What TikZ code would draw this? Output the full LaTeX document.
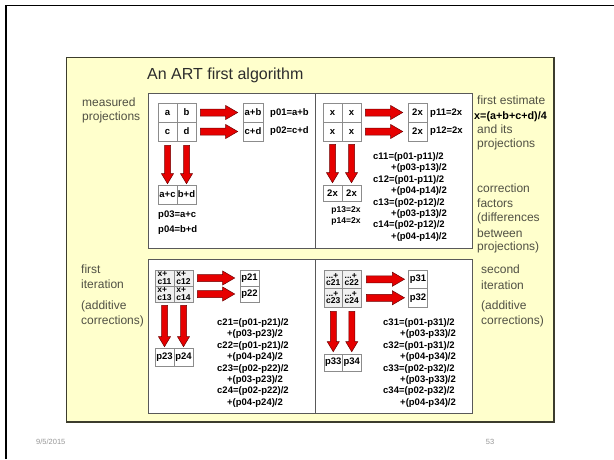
\documentclass[tikz,border=0pt]{standalone}
\usepackage{fontspec}
\setmainfont{Liberation Sans}
\usetikzlibrary{calc}

\definecolor{slideyellow}{RGB}{255,255,204}
\definecolor{boxedge}{RGB}{60,60,45}
\definecolor{labelc}{RGB}{80,80,68}
\definecolor{titlec}{RGB}{45,45,45}
\definecolor{arrowred}{RGB}{230,0,0}
\definecolor{arrowedge}{RGB}{110,0,0}
\definecolor{cellline}{RGB}{140,140,140}
\definecolor{footc}{RGB}{150,150,150}

\tikzset{
  lab/.style={anchor=west, inner sep=0pt, text=labelc, font=\fontsize{12}{14}\selectfont},
  cell/.style={draw=cellline, line width=0.6pt, fill=white, inner sep=0pt,
    minimum width=19pt, minimum height=19pt, font=\bfseries\fontsize{9.5}{10}\selectfont},
  twoline/.style={align=left, fill=black!6, font=\bfseries\fontsize{8.5}{7.2}\selectfont},
  eq/.style={anchor=west, inner sep=0pt, font=\bfseries\fontsize{9.5}{10}\selectfont},
  small eq/.style={inner sep=0pt, font=\bfseries\fontsize{8.5}{10}\selectfont},
  panel/.style={draw=black!65, line width=0.7pt, fill=white},
  arrowstyle/.style={fill=arrowred, draw=arrowedge, line width=0.5pt, line join=miter},
  hblock/.style={arrowstyle, to path={let \p1=(\tikztostart), \p2=(\tikztotarget) in
    (\x1,\y1+3.5pt) -- (\x2-12pt,\y1+3.5pt) -- (\x2-12pt,\y1+7pt) -- (\x2,\y1)
    -- (\x2-12pt,\y1-7pt) -- (\x2-12pt,\y1-3.5pt) -- (\x1,\y1-3.5pt) -- cycle}},
  vblock/.style={arrowstyle, to path={let \p1=(\tikztostart), \p2=(\tikztotarget) in
    (\x1+3pt,\y1) -- (\x1+3pt,\y2+10pt) -- (\x1+6pt,\y2+10pt) -- (\x1,\y2)
    -- (\x1-6pt,\y2+10pt) -- (\x1-3pt,\y2+10pt) -- (\x1-3pt,\y1) -- cycle}},
}

% one correction formula set over two lines
\newcommand\eqpair[6]{%
  \node[eq] (#1a) at (#2,#4) {#5};
  \node[eq] (#1b) at (#3,#4+11.4) {#6};}

\begin{document}
\begin{tikzpicture}[x=1pt,y=-1pt]
\useasboundingbox (0,0) rectangle (614,459);
\fill[white] (0,0) rectangle (614,459);

% slide frame
\draw[line width=1.6pt] (6,459) -- (6,5.3) -- (614,5.3);

% yellow content box and its four white panels
\draw[fill=slideyellow, draw=boxedge, line width=1.1pt] (66.5,57.5) rectangle (554,422);
\draw[panel] (148,93) rectangle (315,248);
\draw[panel] (315,93) rectangle (472,248);
\draw[panel] (148,259) rectangle (315,413);
\draw[panel] (315,259) rectangle (472,413);

\node[anchor=west, inner sep=0pt, text=titlec, font=\fontsize{16}{18}\selectfont]
  (title) at (147,75) {An ART first algorithm};

% side labels, left
\node[lab] (l1) at (82,102) {measured};
\node[lab] (l2) at (82,117) {projections};
\node[lab] (l3) at (81,269) {first};
\node[lab] (l4) at (81,284) {iteration};
\node[lab] (l5) at (81,306) {(additive};
\node[lab] (l6) at (81,321) {corrections)};

% side labels, right
\node[lab] (r1) at (477,100) {first estimate};
\node[anchor=west, inner sep=0pt, font=\bfseries\fontsize{10.8}{12}\selectfont] (r2) at (474,117) {x=(a+b+c+d)/4};
\node[lab] (r3) at (477,129) {and its};
\node[lab] (r4) at (477,144) {projections};
\node[lab] (r5) at (477,188) {correction};
\node[lab] (r6) at (477,203) {factors};
\node[lab] (r7) at (477,218) {(differences};
\node[lab] (r8) at (477,233) {between};
\node[lab] (r9) at (477,247) {projections)};
\node[lab] (s1) at (481,269) {second};
\node[lab] (s2) at (481,285) {iteration};
\node[lab] (s3) at (481,306) {(additive};
\node[lab] (s4) at (481,321) {corrections)};

% measured projections
\node[cell] (a) at (167.5,112.5) {a};
\node[cell] (b) at (186.5,112.5) {b};
\node[cell] (c) at (167.5,131.5) {c};
\node[cell] (d) at (186.5,131.5) {d};
\node[cell, minimum width=20pt] (ab) at (253,112.5) {a+b};
\node[cell, minimum width=20pt] (cd) at (253,131.5) {c+d};
\draw[hblock] ([xshift=4pt]b.east) to ([xshift=-5pt]ab.west);
\draw[hblock] ([xshift=4pt]d.east) to ([xshift=-5pt]cd.west);
\node[eq] (p01) at (270,113) {p01=a+b};
\node[eq] (p02) at (270,131) {p02=c+d};
\node[cell] (ac) at (167.5,194.5) {a+c};
\node[cell] (bd) at (186.5,194.5) {b+d};
\draw[vblock] ([yshift=-4pt]c.south) to ([yshift=1pt]ac.north);
\draw[vblock] ([yshift=-4pt]d.south) to ([yshift=1pt]bd.north);
\node[eq] (p03) at (158,215) {p03=a+c};
\node[eq] (p04) at (158,230) {p04=b+d};

% first estimate
\node[cell] (x1) at (332.5,112.5) {x};
\node[cell] (x2) at (351.5,112.5) {x};
\node[cell] (x3) at (332.5,131.5) {x};
\node[cell] (x4) at (351.5,131.5) {x};
\node[cell] (e1) at (417.5,112.5) {2x};
\node[cell] (e2) at (417.5,131.5) {2x};
\draw[hblock] ([xshift=4pt]x2.east) to ([xshift=-5pt]e1.west);
\draw[hblock] ([xshift=4pt]x4.east) to ([xshift=-5pt]e2.west);
\node[eq] (p11) at (430,113) {p11=2x};
\node[eq] (p12) at (430,131) {p12=2x};
\node[cell, minimum height=16pt] (e3) at (332.5,193) {2x};
\node[cell, minimum height=16pt] (e4) at (351.5,193) {2x};
\draw[vblock] ([yshift=-3pt]x3.south) to ([yshift=2pt]e3.north);
\draw[vblock] ([yshift=-3pt]x4.south) to ([yshift=2pt]e4.north);
\node[small eq] (p13) at (346,210) {p13=2x};
\node[small eq] (p14) at (346,221) {p14=2x};
\eqpair{c11}{373}{391}{157}{c11=(p01-p11)/2}{+(p03-p13)/2}
\eqpair{c12}{373}{391}{179.8}{c12=(p01-p11)/2}{+(p04-p14)/2}
\eqpair{c13}{373}{391}{202.6}{c13=(p02-p12)/2}{+(p03-p13)/2}
\eqpair{c14}{373}{391}{225.4}{c14=(p02-p12)/2}{+(p04-p14)/2}

% first iteration
\node[cell, minimum height=16pt, twoline] (f1) at (164.5,278) {x+\\c11};
\node[cell, minimum height=16pt, twoline] (f2) at (183.5,278) {x+\\c12};
\node[cell, minimum height=16pt, twoline] (f3) at (164.5,294) {x+\\c13};
\node[cell, minimum height=16pt, twoline] (f4) at (183.5,294) {x+\\c14};
\node[cell, minimum height=16pt] (p21) at (249.5,278) {p21};
\node[cell, minimum height=16pt] (p22) at (249.5,294) {p22};
\draw[hblock] ([xshift=4pt]f2.east) to ([xshift=-5pt]p21.west);
\draw[hblock] ([xshift=4pt]f4.east) to ([xshift=-5pt]p22.west);
\node[cell, minimum height=18pt] (p23) at (164.5,357) {p23};
\node[cell, minimum height=18pt] (p24) at (183.5,357) {p24};
\draw[vblock] ([yshift=-3pt]f3.south) to ([yshift=1pt]p23.north);
\draw[vblock] ([yshift=-3pt]f4.south) to ([yshift=1pt]p24.north);
\eqpair{c21}{217}{227}{323}{c21=(p01-p21)/2}{+(p03-p23)/2}
\eqpair{c22}{217}{227}{345.8}{c22=(p01-p21)/2}{+(p04-p24)/2}
\eqpair{c23}{217}{227}{368.6}{c23=(p02-p22)/2}{+(p03-p23)/2}
\eqpair{c24}{217}{227}{391.4}{c24=(p02-p22)/2}{+(p04-p24)/2}

% second iteration
\node[cell, minimum width=18.5pt, minimum height=18.5pt, twoline] (g1) at (333.25,279.25) {...+\\c21};
\node[cell, minimum width=18.5pt, minimum height=18.5pt, twoline] (g2) at (351.75,279.25) {...+\\c22};
\node[cell, minimum width=18.5pt, minimum height=18.5pt, twoline] (g3) at (333.25,297.75) {...+\\c23};
\node[cell, minimum width=18.5pt, minimum height=18.5pt, twoline] (g4) at (351.75,297.75) {...+\\c24};
\node[cell, minimum width=18.5pt, minimum height=18.5pt] (p31) at (418,279.25) {p31};
\node[cell, minimum width=18.5pt, minimum height=18.5pt] (p32) at (418,297.75) {p32};
\draw[hblock] ([xshift=5pt]g2.east) to ([xshift=-4pt]p31.west);
\draw[hblock] ([xshift=5pt]g4.east) to ([xshift=-4pt]p32.west);
\node[cell, minimum width=18.5pt, minimum height=17pt] (p33) at (333.25,362.5) {p33};
\node[cell, minimum width=18.5pt, minimum height=17pt] (p34) at (351.75,362.5) {p34};
\draw[vblock] ([yshift=-4pt]g3.south) to ([yshift=2pt]p33.north);
\draw[vblock] ([yshift=-4pt]g4.south) to ([yshift=2pt]p34.north);
\eqpair{c31}{383}{400}{323}{c31=(p01-p31)/2}{+(p03-p33)/2}
\eqpair{c32}{383}{400}{345.8}{c32=(p01-p31)/2}{+(p04-p34)/2}
\eqpair{c33}{383}{400}{368.6}{c33=(p02-p32)/2}{+(p03-p33)/2}
\eqpair{c34}{383}{400}{391.4}{c34=(p02-p32)/2}{+(p04-p34)/2}

% footer
\node[anchor=west, inner sep=0pt, text=footc, font=\fontsize{7.5}{9}\selectfont] (date) at (36,442) {9/5/2015};
\node[inner sep=0pt, text=footc, font=\fontsize{7.5}{9}\selectfont] (page) at (490,442) {53};
\end{tikzpicture}
\end{document}
